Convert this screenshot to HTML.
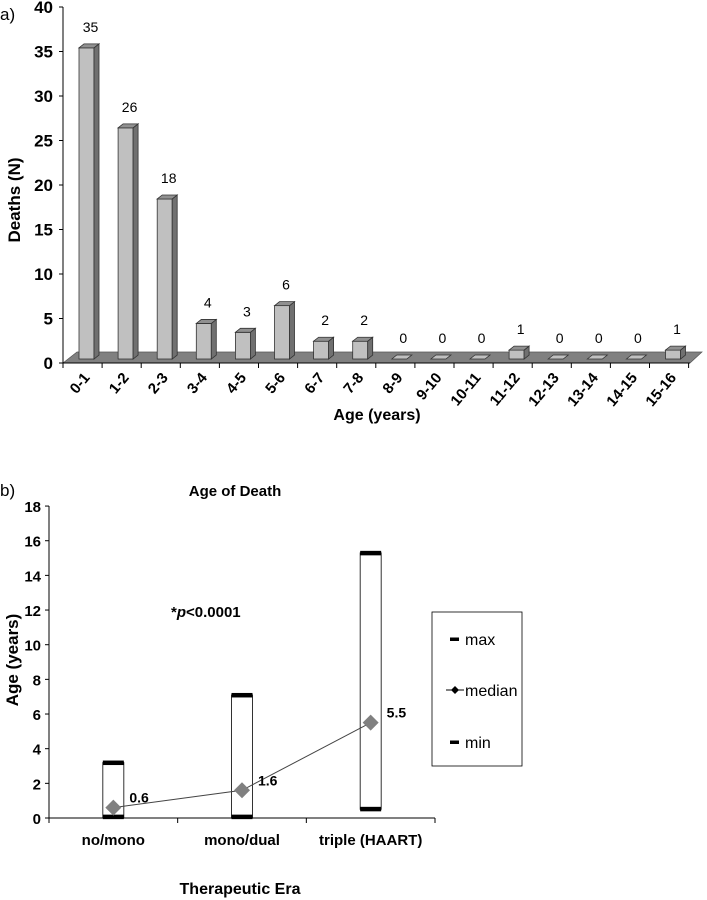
<!DOCTYPE html>
<html><head><meta charset="utf-8"><style>
body{margin:0;background:#fff;width:707px;height:900px;overflow:hidden}
svg{display:block;font-family:"Liberation Sans",Arial,sans-serif}
</style></head><body>
<svg width="707" height="900">
<g id="top"></g>
<g id="bot"></g>
</svg>
<script>
const ageCats=["0-1","1-2","2-3","3-4","4-5","5-6","6-7","7-8","8-9","9-10","10-11","11-12","12-13","13-14","14-15","15-16"];
const deaths=[35,26,18,4,3,6,2,2,0,0,0,1,0,0,0,1];
const deathTicks=[0,5,10,15,20,25,30,35,40];
const eras=["no/mono","mono/dual","triple (HAART)"];
const eraMax=[3.2,7.1,15.3];
const eraMin=[0.05,0.05,0.5];
const eraMedian=[0.6,1.6,5.5];
const ageTicks=[0,2,4,6,8,10,12,14,16,18];
const NS="http://www.w3.org/2000/svg";
function mk(p,t,a,txt){const e=document.createElementNS(NS,t);for(const k in a)e.setAttribute(k,a[k]);if(txt!==undefined)e.textContent=txt;p.appendChild(e);return e;}
// ---- top chart
const T=document.getElementById('top');
const ax0=63, step=39.1, yTick=v=>363-v*8.9, yBar=v=>359-v*8.89;
mk(T,'polygon',{points:`${ax0},363 ${ax0+14},352 702,352 690,363`,fill:'#808080',stroke:'#555','stroke-width':0.7,});
let l=mk(T,'line',{x1:ax0,y1:7,x2:ax0,y2:363,stroke:'#000','stroke-width':1});

l=mk(T,'line',{x1:ax0,y1:363,x2:690,y2:363,stroke:'#000','stroke-width':1});

deathTicks.forEach(v=>{const y=yTick(v);
 const tk=mk(T,'line',{x1:ax0-4,y1:y,x2:ax0,y2:y,stroke:'#000'});
 
 const t=mk(T,'text',{x:ax0-10,y:y+6,'text-anchor':'end','font-size':17,'font-weight':'bold'},v);
 });
for(let i=0;i<=16;i++){const x=ax0+i*step;const tk=mk(T,'line',{x1:x,y1:363,x2:x,y2:368,stroke:'#000'});
 }
deaths.forEach((v,i)=>{const x=ax0+i*step+16,w=15,dx=5,dy=4,yt=yBar(v),yb=359;
 const g=mk(T,'g',{});
 if(v>0){
  mk(g,'rect',{x:x,y:yt,width:w,height:yb-yt,fill:'#c0c0c0',stroke:'#333','stroke-width':0.8});
  mk(g,'polygon',{points:`${x+w},${yt} ${x+w+dx},${yt-dy} ${x+w+dx},${yb-dy} ${x+w},${yb}`,fill:'#707070',stroke:'#333','stroke-width':0.8});
  mk(g,'polygon',{points:`${x},${yt} ${x+dx},${yt-dy} ${x+w+dx},${yt-dy} ${x+w},${yt}`,fill:'#909090',stroke:'#333','stroke-width':0.8});
 } else {
  mk(g,'polygon',{points:`${x},${yb} ${x+dx},${yb-dy} ${x+w+dx},${yb-dy} ${x+w},${yb}`,fill:'#c0c0c0',stroke:'#333','stroke-width':0.8});
 }
 const t=mk(T,'text',{x:x+w/2+4,y:yt-16,'text-anchor':'middle','font-size':14},v);
 
 const cx=ax0+(i+0.5)*step+8;
 const c=mk(T,'text',{x:cx,y:378,'text-anchor':'end','font-size':15,'font-weight':'bold',transform:`rotate(-50 ${cx} 378)`},ageCats[i]);
 
});
let t=mk(T,'text',{x:0,y:20,'font-size':17},'a)');
t=mk(T,'text',{x:0,y:0,'font-size':17,'font-weight':'bold','text-anchor':'middle',transform:'translate(20,200) rotate(-90)'},'Deaths (N)');

t=mk(T,'text',{x:377,y:420,'font-size':16,'font-weight':'bold','text-anchor':'middle'},'Age (years)');

// ---- bottom chart
const B=document.getElementById('bot');
const bx0=49,bx1=435,by=v=>818-v*17.33,bstep=(bx1-bx0)/3,bcx=i=>bx0+(i+0.5)*bstep;
l=mk(B,'line',{x1:bx0,y1:506,x2:bx0,y2:818,stroke:'#000'});
l=mk(B,'line',{x1:bx0,y1:818,x2:bx1,y2:818,stroke:'#000'});
ageTicks.forEach(v=>{const y=by(v);const tk=mk(B,'line',{x1:bx0-4,y1:y,x2:bx0,y2:y,stroke:'#000'});
 
 const tx=mk(B,'text',{x:bx0-8,y:y+6,'text-anchor':'end','font-size':15,'font-weight':'bold'},v);
 });
for(let i=0;i<=3;i++){const x=bx0+i*bstep;const tk=mk(B,'line',{x1:x,y1:818,x2:x,y2:823,stroke:'#000'});
 }
eras.forEach((e,i)=>{const cx=bcx(i),w=21,yM=by(eraMax[i]),ym=by(eraMin[i]);
 const r=mk(B,'rect',{x:cx-w/2,y:yM,width:w,height:ym-yM,fill:'#fff',stroke:'#000','stroke-width':0.8});
 
 let m=mk(B,'rect',{x:cx-w/2,y:yM-2,width:w,height:4.5,fill:'#000'});
 m=mk(B,'rect',{x:cx-w/2,y:ym-2.5,width:w,height:4.5,fill:'#000'});
 const tx=mk(B,'text',{x:cx,y:845,'text-anchor':'middle','font-size':15,'font-weight':'bold'},e);
 });
const pts=eraMedian.map((v,i)=>`${bcx(i)},${by(v)}`).join(' ');
l=mk(B,'polyline',{points:pts,fill:'none',stroke:'#444','stroke-width':1});
eraMedian.forEach((v,i)=>{const x=bcx(i),y=by(v);
 const d=mk(B,'polygon',{points:`${x},${y-8} ${x+8},${y} ${x},${y+8} ${x-8},${y}`,fill:'#808080'});
 
 const tx=mk(B,'text',{x:x+16,y:y-5,'font-size':14,'font-weight':'bold'},v);
 });
t=mk(B,'text',{x:0,y:496,'font-size':17},'b)');
t=mk(B,'text',{x:235,y:496,'font-size':15,'font-weight':'bold','text-anchor':'middle'},'Age of Death');
t=mk(B,'text',{x:171,y:617,'font-size':15,'font-weight':'bold'});t.innerHTML='*<tspan font-style="italic">p</tspan>&lt;0.0001';

t=mk(B,'text',{x:0,y:0,'font-size':17,'font-weight':'bold','text-anchor':'middle',transform:'translate(18,660) rotate(-90)'},'Age (years)');

t=mk(B,'text',{x:240,y:894,'font-size':16,'font-weight':'bold','text-anchor':'middle'},'Therapeutic Era');

const L=mk(B,'g',{});
mk(L,'rect',{x:432,y:612,width:90,height:154,fill:'#fff',stroke:'#000','stroke-width':0.8});
[['max',639],['median',690],['min',742]].forEach(([n,y])=>{
 const g=mk(L,'g',{});
 if(n==='median'){mk(g,'line',{x1:446,y1:y,x2:464,y2:y,stroke:'#000'});mk(g,'polygon',{points:`455,${y-4} 459,${y} 455,${y+4} 451,${y}`,fill:'#000'});}
 else mk(g,'rect',{x:450,y:y-1.5,width:9,height:3.5,fill:'#000'});
 mk(g,'text',{x:465,y:y+6,'font-size':16},n);});
</script>
</body></html>
